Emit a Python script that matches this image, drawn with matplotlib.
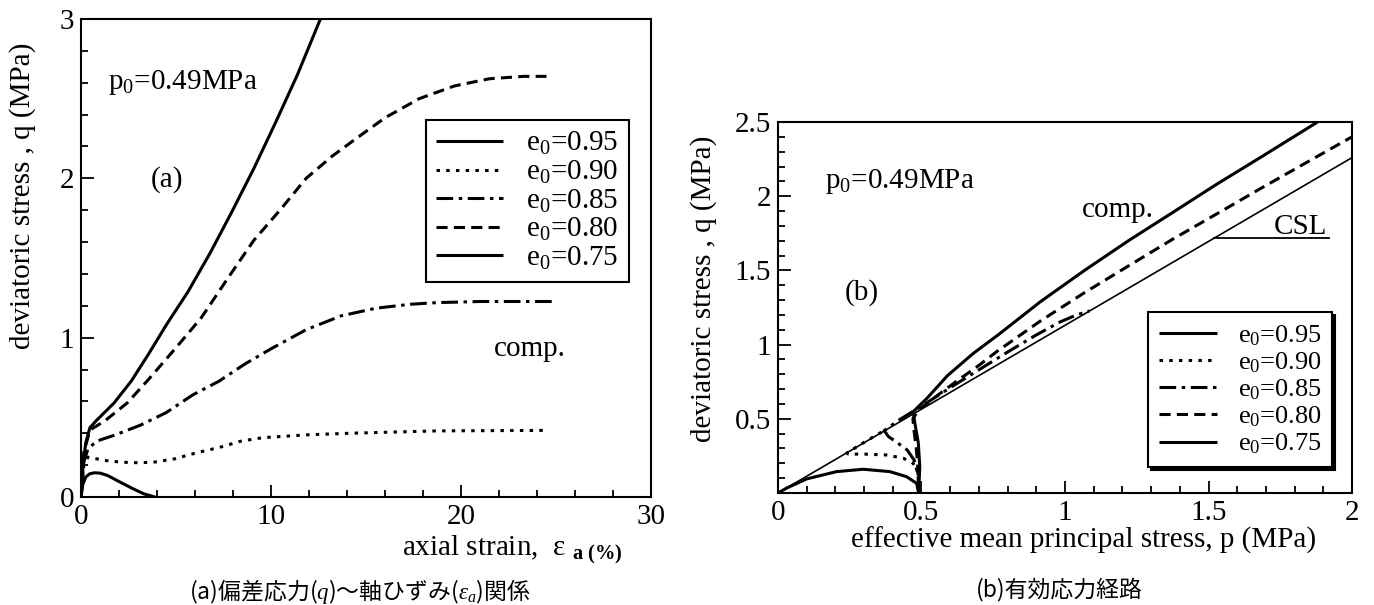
import matplotlib
matplotlib.use('Agg')
import matplotlib.pyplot as plt
from matplotlib.ticker import MultipleLocator, FixedLocator, FixedFormatter

plt.rcParams['font.family'] = ['Liberation Serif', 'DejaVu Serif']
plt.rcParams['mathtext.fontset'] = 'custom'
plt.rcParams['mathtext.rm'] = 'Liberation Serif'
plt.rcParams['mathtext.it'] = 'Liberation Serif:italic'
plt.rcParams['mathtext.bf'] = 'Liberation Serif:bold'
plt.rcParams['lines.scale_dashes'] = False

# ---------------- data ----------------
void_ratios = ['0.95', '0.90', '0.85', '0.80', '0.75']

# (a) q vs axial strain
ea_095 = [0, 0.1, 0.25, 0.45, 0.7, 1.0, 1.4, 2.0, 2.7, 3.3, 3.9]
qa_095 = [0, 0.08, 0.125, 0.145, 0.152, 0.15, 0.135, 0.097, 0.054, 0.02, 0.0]

ea_090 = [0, 0.15, 0.36, 0.8, 1.5, 2.66, 3.8, 4.95, 6.1, 7.25, 8.4, 9.55, 11.85, 14.15, 18.75, 24.5]
qa_090 = [0, 0.2, 0.25, 0.24, 0.225, 0.215, 0.218, 0.24, 0.278, 0.31, 0.35, 0.372, 0.39, 0.40, 0.415, 0.418]

ea_085 = [0, 0.15, 0.36, 0.81, 1.74, 3.11, 4.49, 5.87, 7.25, 8.63, 10.0, 11.85, 13.69, 15.53, 17.37, 18.75, 21.0, 25.0]
qa_085 = [0, 0.22, 0.30, 0.35, 0.387, 0.45, 0.53, 0.64, 0.726, 0.835, 0.93, 1.05, 1.137, 1.185, 1.21, 1.22, 1.227, 1.227]

ea_080 = [0, 0.15, 0.47, 1.28, 2.43, 3.57, 4.95, 6.33, 7.71, 9.09, 10.47, 11.85, 13.23, 14.6, 16.0, 17.8, 19.66, 21.5, 23.3, 24.5]
qa_080 = [0, 0.28, 0.42, 0.48, 0.59, 0.74, 0.93, 1.125, 1.37, 1.61, 1.80, 2.0, 2.14, 2.26, 2.38, 2.50, 2.58, 2.625, 2.64, 2.64]

ea_075 = [0, 0.1, 0.25, 0.47, 0.81, 1.74, 2.66, 3.57, 4.49, 5.64, 6.79, 7.94, 9.09, 10.24, 11.39, 12.6]
qa_075 = [0, 0.2, 0.34, 0.435, 0.48, 0.59, 0.73, 0.9, 1.08, 1.29, 1.53, 1.79, 2.06, 2.35, 2.65, 3.0]

# (b) effective stress paths p-q
p_095 = [0.49, 0.483, 0.448, 0.39, 0.297, 0.204, 0.1, 0.03, 0.0]
q_095 = [0, 0.065, 0.11, 0.144, 0.16, 0.144, 0.095, 0.033, 0.0]

p_090 = [0.49, 0.489, 0.471, 0.437, 0.379, 0.303, 0.245, 0.24, 0.303, 0.365]
q_090 = [0, 0.133, 0.2, 0.234, 0.256, 0.262, 0.262, 0.27, 0.345, 0.415]

p_085 = [0.49, 0.488, 0.475, 0.45, 0.415, 0.385, 0.37, 0.42, 0.5, 0.6, 0.7, 0.8, 0.9, 0.98, 1.04, 1.085]
q_085 = [0, 0.12, 0.22, 0.29, 0.34, 0.38, 0.42, 0.49, 0.585, 0.71, 0.83, 0.95, 1.065, 1.15, 1.2, 1.227]

p_080 = [0.49, 0.488, 0.482, 0.474, 0.47, 0.49, 0.55, 0.62, 0.7, 0.76, 0.915, 1.068, 1.221, 1.375, 1.528, 1.68, 1.835, 2.0]
q_080 = [0, 0.15, 0.3, 0.42, 0.5, 0.56, 0.65, 0.75, 0.86, 0.95, 1.16, 1.35, 1.53, 1.71, 1.88, 2.05, 2.22, 2.40]

p_075 = [0.49, 0.494, 0.489, 0.477, 0.471, 0.52, 0.59, 0.68, 0.77, 0.915, 1.068, 1.221, 1.375, 1.528, 1.68, 1.88]
q_075 = [0, 0.177, 0.335, 0.47, 0.548, 0.64, 0.79, 0.94, 1.07, 1.29, 1.50, 1.70, 1.89, 2.08, 2.26, 2.5]

p_csl = [0.0, 2.0]
q_csl = [0.0, 2.26]

# ---------------- styles ----------------
styles = ['-', (0, (2.5, 4.5)), (0, (12, 4, 2.5, 4)), (0, (8, 4.5)), '-']
LW = 2.2
FS = 21

fig = plt.figure(figsize=(13.74, 6.05), dpi=100)
axa = fig.add_axes([81/1374, 1-497/605, 570/1374, 478/605])
axb = fig.add_axes([778/1374, 1-493/605, 574/1374, 371/605])

def label(v):
    return 'e$_\\mathrm{0}$=' + v

def style_axes(ax):
    for s in ax.spines.values():
        s.set_linewidth(1.5)
    ax.tick_params(which='both', direction='in', top=False, right=False,
                   labelsize=FS, width=1.3, pad=5)
    ax.tick_params(which='major', length=9)
    ax.tick_params(which='minor', length=5)

# ---- panel (a)
series_a = [(ea_095, qa_095), (ea_090, qa_090), (ea_085, qa_085), (ea_080, qa_080), (ea_075, qa_075)]
for (x, y), ls, v in zip(series_a, styles, void_ratios):
    axa.plot(x, y, color='black', lw=LW, ls=ls, label=label(v), solid_capstyle='butt',
             dash_capstyle='butt', solid_joinstyle='round')
axa.set_xlim(0, 30)
axa.set_ylim(0, 3)
axa.xaxis.set_major_locator(MultipleLocator(10))
axa.xaxis.set_minor_locator(MultipleLocator(2))
axa.yaxis.set_major_locator(MultipleLocator(1))
axa.yaxis.set_minor_locator(MultipleLocator(0.2))
style_axes(axa)
axa.set_ylabel('deviatoric stress , q (MPa)', fontsize=FS)
axa.yaxis.set_label_coords(-0.079, 0.63)
axa.text(0.949, -0.11, 'axial strain,  ε $_{\\mathbf{a\\ (\\%)}}$', transform=axa.transAxes,
         ha='right', va='center', fontsize=FS)
axa.text(1.42, 2.6, 'p$_\\mathrm{0}$=0.49MPa', fontsize=FS, va='center', ha='left')
axa.text(4.5, 1.99, '(a)', fontsize=FS, va='center', ha='center')
axa.text(23.6, 0.93, 'comp.', fontsize=FS, va='center', ha='center')
leg = axa.legend(loc='upper left', bbox_to_anchor=(0.605, 0.789), borderaxespad=0,
                 fontsize=FS, handlelength=2.3, handletextpad=0.8, labelspacing=0.05,
                 borderpad=0.35, fancybox=False, edgecolor='black', framealpha=1)
leg.get_frame().set_linewidth(1.5)

# ---- panel (b)
series_b = [(p_095, q_095), (p_090, q_090), (p_085, q_085), (p_080, q_080), (p_075, q_075)]
for (x, y), ls, v in zip(series_b, styles, void_ratios):
    axb.plot(x, y, color='black', lw=LW, ls=ls, label=label(v), solid_capstyle='butt',
             dash_capstyle='butt', solid_joinstyle='round')
axb.plot(p_csl, q_csl, color='black', lw=1.2)
axb.set_xlim(0, 2)
axb.set_ylim(0, 2.5)
axb.xaxis.set_major_locator(FixedLocator([0, 0.5, 1, 1.5, 2]))
axb.xaxis.set_major_formatter(FixedFormatter(['0', '0.5', '1', '1.5', '2']))
axb.xaxis.set_minor_locator(MultipleLocator(0.1))
axb.yaxis.set_major_locator(FixedLocator([0, 0.5, 1, 1.5, 2, 2.5]))
axb.yaxis.set_major_formatter(FixedFormatter(['', '0.5', '1', '1.5', '2', '2.5']))
axb.yaxis.set_minor_locator(MultipleLocator(0.1))
style_axes(axb)
axb.set_ylabel('deviatoric stress , q (MPa)', fontsize=FS)
axb.yaxis.set_label_coords(-0.106, 0.55)
axb.text(0.533, -0.127, 'effective mean principal stress, p (MPa)', transform=axb.transAxes,
         ha='center', va='center', fontsize=FS)
axb.text(0.164, 2.10, 'p$_\\mathrm{0}$=0.49MPa', fontsize=FS, va='center', ha='left')
axb.text(0.293, 1.35, '(b)', fontsize=FS, va='center', ha='center')
axb.text(1.185, 1.91, 'comp.', fontsize=FS, va='center', ha='center')
axb.text(1.82, 1.79, 'CSL', fontsize=FS, va='center', ha='center')
axb.plot([1.52, 1.92], [1.72, 1.72], color='black', lw=1.3)
legb = axb.legend(loc='lower left', bbox_to_anchor=(0.645, 0.07), borderaxespad=0,
                  fontsize=19, handlelength=2.2, handletextpad=0.8, labelspacing=0.1,
                  borderpad=0.4, fancybox=False, edgecolor='black', framealpha=1,
                  shadow={'color': 'black', 'alpha': 1})
legb.get_frame().set_linewidth(1.5)

# ---- captions
cap_font = ['Noto Sans CJK JP', 'DejaVu Sans']
fig.text(0.262, 0.0215, '(a)偏差応力($\\mathit{q}$)～軸ひずみ($\\mathit{ε}_{\\mathit{a}}$)関係',
         fontsize=16.5, family=cap_font, ha='center', va='center')
fig.text(0.771, 0.025, '(b)有効応力経路', fontsize=16.5, family=cap_font, ha='center', va='center')

fig.savefig('out.png', dpi=100, facecolor='white')
